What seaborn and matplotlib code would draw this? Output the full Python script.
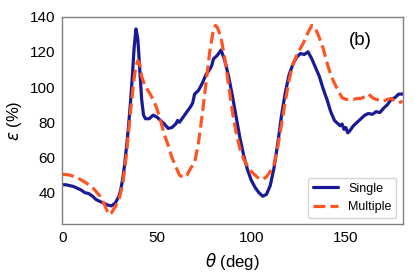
import matplotlib
matplotlib.use("Agg")
import matplotlib.pyplot as plt
import seaborn as sns
import pandas as pd

# Single scattering curve (theta in deg, strain in %)
theta_single = [0, 2, 4, 6, 8, 10, 12, 14, 16, 18, 20, 22, 24, 26, 28, 30, 31, 32, 33, 34,
                35, 36, 37, 38, 39, 40, 41, 42, 43, 44, 46, 48, 50, 52, 54, 56, 58, 60, 61, 62,
                64, 66, 68, 69, 70, 72, 74, 76, 78, 79, 80, 82, 84, 86, 88, 90, 92, 94, 96, 98,
                100, 102, 104, 106, 108, 110, 112, 114, 116, 118, 120, 122, 124, 126, 128, 130,
                132, 134, 136, 138, 140, 142, 144, 146, 147, 148, 149, 150, 151, 152, 154, 156,
                158, 160, 162, 164, 166, 168, 170, 172, 174, 176, 178, 180]
eps_single = [44.5, 44.5, 44, 43.5, 42.5, 41.5, 40, 39.5, 38, 36, 35, 34, 33, 32.5, 34, 38, 42, 48, 56, 66,
              77, 90, 105, 122, 133, 127, 110, 93, 84, 82, 82, 84, 83, 81, 79, 76.5, 77, 79, 81, 80,
              83, 86, 89, 91, 96, 98, 102, 107, 110, 112, 116, 118, 121, 115, 106, 95, 83, 71, 61, 53,
              47, 43, 40, 38, 39, 44, 54, 68, 84, 97, 107, 113, 117, 119, 118.5, 120,
              116, 111, 106, 99, 93, 86, 81, 79, 78, 79, 76, 77, 74, 75, 78, 80,
              82, 84, 85, 84.5, 86, 85.5, 88, 90, 93, 94, 96, 96]

# Multiple scattering curve
theta_multi = [0, 4, 8, 12, 16, 20, 22, 24, 25, 26, 28, 30, 32, 34, 36, 38, 39, 40, 41, 42,
               44, 46, 48, 50, 52, 54, 56, 58, 60, 62, 64, 66, 68, 70, 72, 74, 76, 78, 80, 81,
               82, 84, 86, 88, 90, 92, 94, 96, 98, 100, 102, 104, 106, 108, 110, 112, 114, 116,
               118, 120, 122, 124, 126, 128, 130, 132, 134, 136, 138, 140, 142, 144, 146, 148,
               150, 152, 154, 156, 158, 160, 162, 164, 166, 168, 170, 172, 174, 176, 178, 180]
eps_multi = [50.5, 50, 48.5, 46, 43, 38, 34, 29, 27.5, 28.5, 32, 36, 45, 62, 85, 105, 112, 115, 113, 106,
             100, 97, 93, 88, 81, 73, 67, 60, 55, 50, 48.5, 50, 54, 57, 68, 84, 102, 120, 133, 135,
             134, 128, 116, 101, 86, 74, 65, 59, 55, 52, 50, 48, 47.5, 49, 52, 56, 66, 79,
             92, 104, 113, 118, 122, 126, 131, 135, 133, 128, 122, 114, 107, 102, 98, 94,
             93, 93, 93, 93.5, 93.5, 94.5, 96, 94, 93, 92.5, 92, 93, 93.5, 92, 91, 92]

df_single = pd.DataFrame({"theta": theta_single, "eps": eps_single})
df_multi = pd.DataFrame({"theta": theta_multi, "eps": eps_multi})

sns.set_style("white")
plt.rcParams["font.family"] = ["Liberation Sans", "DejaVu Sans"]
plt.rcParams["mathtext.fontset"] = "dejavusans"
plt.rcParams["text.color"] = "black"
plt.rcParams["axes.labelcolor"] = "black"
plt.rcParams["xtick.color"] = "black"
plt.rcParams["ytick.color"] = "black"

fig, ax = plt.subplots(figsize=(4.15, 2.77), dpi=100)
sns.lineplot(data=df_single, x="theta", y="eps", ax=ax, color="#1a1a96", lw=2.3, label="Single")
sns.lineplot(data=df_multi, x="theta", y="eps", ax=ax, color="#ff5522", lw=2.3,
             linestyle="--", label="Multiple")

ax.set_xlim(0, 180)
ax.set_ylim(22, 140)
ax.set_xticks([0, 50, 100, 150])
ax.set_yticks([40, 60, 80, 100, 120, 140])
ax.set_xlabel(r"$\theta$ (deg)", fontsize=12)
ax.set_ylabel(r"$\varepsilon$ (%)", fontsize=12)
ax.tick_params(labelsize=11, length=2, color="#808080", labelcolor="black", pad=3)
for s in ax.spines.values():
    s.set_color("#808080")
    s.set_linewidth(1.0)

ax.text(0.875, 0.885, "(b)", transform=ax.transAxes, fontsize=13.5, ha="center", va="center")
ax.legend(loc="lower right", fontsize=9, frameon=True, handlelength=2.0)

fig.subplots_adjust(left=0.15, right=0.97, bottom=0.19, top=0.94)
fig.savefig("out.png", dpi=100)
